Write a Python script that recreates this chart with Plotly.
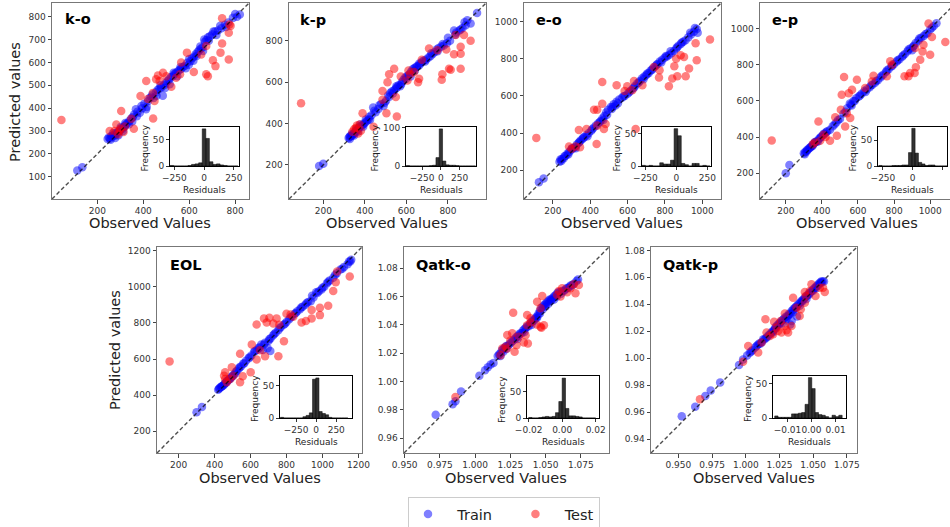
import plotly.graph_objects as go

W, H = 950, 527
FONT = "DejaVu Sans"

# ---------------- data ----------------
PANEL_NAMES = ["k-o", "k-p", "e-o", "e-p", "EOL", "Qatk-o", "Qatk-p"]
SERIES_NAMES = ["Train", "Test"]

# (observed, predicted) pairs
ko_train = [(113,128),(135,142),(245,265),(250,272),(255,268),(260,278),(265,275),(270,283),(275,280),(280,292),
            (285,288),(290,296),(295,300),(300,305),(305,312),(310,310),(315,318),(320,322),(325,330),(332,335),
            (340,345),(348,355),(355,362),(360,372),(368,395),(375,385),(385,380),(395,400),(405,420),(412,395),
            (420,430),(428,445),(435,450),(445,445),(455,470),(462,480),(470,485),(478,490),(485,455),(490,500),
            (498,510),(505,518),(512,525),(520,535),(528,540),(535,548),(542,555),(550,560),(558,568),(565,572),
            (572,580),(580,585),(590,598),(598,590),(605,605),(612,618),(620,625),(628,636),(636,645),(642,652),
            (650,660),(658,665),(665,700),(668,690),(675,698),(682,710),(690,715),(700,722),(712,735),(725,740),
            (740,750),(755,765),(770,775),(790,795),(808,800),(820,810),
            (258,262),(268,290),(278,270),(292,282),(302,318),(312,300),(322,335),(338,330),(352,342),(372,365),
            (392,410),(415,405),(440,460),(458,455),(475,500),(495,488),(515,505),(532,555),(548,540),(562,580),
            (585,575),(600,615),(618,608),(632,628),(648,670),(660,650),(685,695),(705,735),(718,720),(735,760),
            (760,755),(800,812)]
ko_test = [(44,348),(743,793),(775,766),(772,730),(743,683),(736,643),(772,613),(703,610),(714,584),(674,672),
           (652,635),(620,558),(681,540),(674,548),(590,643),(565,600),(486,555),(464,543),(471,519),(413,519),
           (456,527),(543,533),(522,494),(500,540),(388,453),(442,467),(449,431),(443,355),(359,310),(283,329),
           (304,388),(348,354),(275,300),(254,300),(297,300),(314,296),(290,286),(300,310),(320,320),(420,440),
           (780,760),(560,548)]

kp_train = [(180,195),(200,205),(322,330),(326,336),(330,340),(335,338),(340,345),(345,350),(350,352),(355,360),
            (360,366),(365,370),(370,378),(375,382),(380,388),(388,392),(395,398),(402,405),(410,412),(418,420),
            (425,418),(432,440),(440,478),(452,455),(465,470),(478,495),(490,485),(502,510),(512,535),(522,548),
            (530,555),(540,560),(548,568),(555,575),(562,585),(570,580),(578,600),(585,610),(592,620),(600,628),
            (608,632),(615,640),(622,650),(630,662),(638,668),(645,672),(652,678),(660,680),(668,690),(676,700),
            (685,705),(695,710),(705,718),(715,725),(725,735),(735,745),(745,758),(755,765),(768,772),(780,778),
            (795,788),(810,800),(829,850),(840,840),(855,850),(861,855),(870,862),(885,875),(893,900),(909,884),
            (940,935),
            (328,325),(338,350),(348,342),(358,372),(368,362),(378,395),(392,385),(405,420),(420,432),(445,462),
            (470,488),(495,500),(518,530),(535,545),(552,580),(575,590),(598,615),(620,628),(640,655),(662,690),
            (690,700),(720,740),(750,750),(775,785),(800,815),(835,830),(880,890)]
kp_test = [(93,498),(541,665),(517,638),(509,600),(485,557),(485,515),(504,450),(554,434),(618,638),(610,657),
           (637,649),(661,617),(674,709),(709,763),(749,755),(792,758),(837,828),(877,828),(909,800),(861,771),
           (861,738),(829,735),(773,638),(770,612),(805,665),(861,665),(813,660),(656,600),(605,608),(389,450),
           (381,365),(362,390),(349,374),(368,352),(442,385),(573,628),(549,528),(357,378),(340,360),(375,395)]

eo_train = [(125,135),(150,155),(235,245),(240,258),(248,260),(258,265),(268,278),(278,290),(288,300),(298,310),
            (308,318),(318,325),(328,338),(338,348),(348,360),(358,368),(368,378),(380,390),(392,400),(405,412),
            (418,428),(430,440),(442,452),(455,465),(465,478),(475,492),(485,510),(495,525),(520,540),(535,548),
            (510,540),(525,555),(540,568),(555,580),(570,590),(585,600),(600,612),(615,628),(628,640),(640,655),
            (652,668),(665,680),(678,695),(690,705),(700,712),(712,722),(722,735),(735,748),(748,760),(760,772),
            (772,785),(785,795),(798,805),(810,812),(822,820),(835,830),(848,842),(860,855),(872,870),(885,880),
            (898,892),(910,900),(925,915),(940,930),(955,945),(970,960),(975,940),
            (245,250),(262,275),(282,285),(302,318),(322,318),(342,352),(362,375),(385,383),(410,420),(450,458),
            (470,470),(490,498),(515,530),(548,560),(578,598),(608,620),(635,645),(660,672),(685,690),(705,720),
            (730,740),(755,768),(780,780),(805,815),(830,840),(865,862),(890,888),(935,940),(960,965)]
eo_test = [(111,374),(1041,904),(964,883),(970,792),(902,810),(884,819),(929,747),(911,706),(866,706),(839,693),
           (821,652),(771,738),(768,699),(741,756),(634,680),(679,657),(625,630),(598,652),(584,626),(541,657),
           (464,675),(464,558),(437,525),(420,525),(482,449),(473,422),(437,440),(434,341),(380,422),(339,417),
           (321,327),(286,327),(345,323),(300,315),(643,422),(860,800),(850,760)]

ep_train = [(200,200),(220,245),(300,310),(308,318),(315,320),(322,330),(330,338),(338,345),(345,352),(352,360),
            (360,368),(368,372),(375,380),(385,390),(395,400),(405,410),(418,420),(430,432),(445,440),(460,460),
            (480,480),(500,500),(520,530),(540,560),(555,585),(565,575),(575,600),(590,615),(605,625),(620,640),
            (635,655),(650,665),(665,675),(680,690),(695,700),(710,715),(725,730),(740,745),(755,760),(770,775),
            (785,790),(800,805),(815,818),(830,830),(845,845),(860,860),(875,875),(890,890),(900,880),(905,900),
            (920,920),(935,935),(950,950),(965,960),(985,975),(1000,995),(1020,1015),(1035,1030),
            (305,305),(318,328),(335,342),(348,350),(362,372),(378,375),(392,398),(410,418),(425,428),(470,470),
            (490,495),(530,540),(560,580),(582,600),(612,630),(642,650),(672,685),(700,710),(730,738),(760,768),
            (790,795),(820,825),(850,852),(880,885),(910,905),(940,945),(975,970),(1010,1005)]
ep_test = [(122,381),(991,1028),(1084,926),(1010,954),(958,874),(945,828),(921,787),(914,754),(880,736),(858,736),
           (889,754),(963,911),(917,893),(1000,856),(779,819),(788,800),(760,736),(686,739),(677,708),(640,671),
           (523,732),(594,717),(567,662),(549,643),(510,634),(505,551),(557,505),(538,532),(474,510),(529,458),
           (381,486),(483,407),(409,412),(360,370),(390,380),(420,400),(445,380),(350,360)]

eol_train = [(300,305),(330,335),(420,430),(428,440),(435,445),(442,450),(450,455),(458,465),(465,470),(472,478),
             (480,485),(488,492),(495,500),(505,512),(515,520),(525,535),(535,548),(548,560),(560,575),(575,590),
             (590,605),(605,620),(620,640),(635,650),(650,665),(660,680),(668,650),(680,690),(695,660),(710,645),
             (700,700),(712,715),(725,730),(740,745),(755,760),(770,778),(785,790),(800,805),(815,820),(830,835),
             (845,850),(860,865),(875,875),(890,890),(905,900),(920,915),(935,920),(950,940),(965,970),(980,975),
             (995,985),(1010,1000),(1025,1020),(1040,1035),(1060,1050),(1080,1075),(1100,1095),(1120,1110),
             (1140,1125),(1155,1140),(1160,1150),
             (425,435),(440,448),(455,462),(468,478),(482,490),(498,505),(518,530),(540,555),(565,575),(595,610),
             (625,645),(645,660),(675,680),(705,710),(732,738),(762,770),(792,795),(822,830),(852,855),(882,885),
             (912,910),(942,950),(972,965),(1000,995),(1032,1028),(1070,1065),(1110,1100),(1148,1140)]
eol_test = [(150,587),(1152,1057),(1082,1085),(1074,1025),(1060,977),(1032,895),(986,884),(986,843),(940,825),
            (940,871),(908,810),(884,802),(838,834),(823,847),(745,825),(727,797),(690,802),(675,825),(634,791),
            (705,828),(607,680),(653,648),(634,598),(542,629),(786,698),(755,616),(681,616),(601,527),(557,505),
            (542,471),(459,527),(453,508),(468,471),(496,555),(505,508),(487,489),(459,489),(760,790),(800,850)]

qo_train = [(0.972,0.9765),(0.984,0.984),(0.986,0.986),(0.990,0.993),(1.003,1.004),(1.007,1.008),(1.009,1.010),
            (1.011,1.012),(1.013,1.013),(1.017,1.019),(1.018,1.020),(1.019,1.022),(1.020,1.023),(1.021,1.024),
            (1.022,1.025),(1.023,1.025),(1.025,1.027),(1.026,1.028),(1.028,1.030),(1.029,1.031),(1.030,1.032),
            (1.031,1.033),(1.033,1.034),(1.034,1.036),(1.035,1.037),(1.036,1.038),(1.038,1.039),(1.039,1.041),
            (1.040,1.042),(1.041,1.043),(1.042,1.044),(1.043,1.045),(1.044,1.046),(1.045,1.048),(1.046,1.050),
            (1.047,1.052),(1.048,1.053),(1.049,1.054),(1.050,1.055),(1.051,1.056),(1.052,1.057),(1.053,1.058),
            (1.054,1.058),(1.055,1.059),(1.056,1.060),(1.057,1.061),(1.058,1.062),(1.059,1.063),(1.060,1.063),
            (1.062,1.064),(1.064,1.065),(1.066,1.066),(1.068,1.068),(1.070,1.069),(1.072,1.071),(1.073,1.072),
            (1.016,1.018),(1.018,1.018),(1.020,1.021),(1.022,1.023),(1.024,1.026),(1.027,1.029),(1.030,1.030),
            (1.032,1.034),(1.035,1.035),(1.037,1.039),(1.040,1.040),(1.042,1.043),(1.044,1.045),(1.046,1.048),
            (1.048,1.051),(1.050,1.053),(1.052,1.055),(1.054,1.057),(1.056,1.058),(1.058,1.060),(1.061,1.062),
            (1.063,1.064),(1.065,1.066),(1.067,1.067),(1.069,1.068)]
qo_test = [(0.986,0.989),(1.018,1.0186),(1.0216,1.0245),(1.0228,1.0328),(1.0263,1.034),(1.027,1.0486),
           (1.028,1.021),(1.0294,1.0257),(1.031,1.0316),(1.0346,1.0276),(1.0374,1.0268),(1.0358,1.0327),
           (1.0369,1.0469),(1.0369,1.0398),(1.0393,1.0417),(1.044,1.0564),(1.0476,1.0604),(1.0464,1.0517),
           (1.0488,1.0398),(1.0464,1.0387),(1.0436,1.0403),(1.0393,1.0446),(1.0582,1.0611),(1.0594,1.064),
           (1.0606,1.060),(1.0653,1.063),(1.0676,1.0658),(1.070,1.0687),(1.0712,1.0623),(1.0736,1.0682),
           (1.0617,1.0658),(1.0228,1.0233),(1.0193,1.0233),(1.0250,1.0290),(1.0470,1.0380)]

qp_train = [(0.9525,0.957),(0.9625,0.964),(0.970,0.972),(0.974,0.976),(0.981,0.982),(0.995,0.995),(0.998,0.999),
            (1.001,1.002),(1.003,1.004),(1.005,1.006),(1.007,1.008),(1.009,1.010),(1.010,1.011),(1.012,1.012),
            (1.013,1.014),(1.015,1.015),(1.016,1.016),(1.018,1.018),(1.019,1.019),(1.020,1.020),(1.021,1.021),
            (1.022,1.022),(1.023,1.024),(1.024,1.025),(1.025,1.025),(1.026,1.027),(1.027,1.028),(1.028,1.029),
            (1.029,1.030),(1.030,1.031),(1.031,1.031),(1.032,1.032),(1.033,1.033),(1.034,1.035),(1.035,1.036),
            (1.036,1.037),(1.037,1.037),(1.038,1.039),(1.039,1.040),(1.040,1.041),(1.041,1.042),(1.042,1.043),
            (1.043,1.044),(1.044,1.045),(1.045,1.046),(1.046,1.047),(1.047,1.048),(1.048,1.049),(1.049,1.050),
            (1.050,1.051),(1.051,1.052),(1.052,1.053),(1.053,1.054),(1.054,1.055),(1.055,1.056),(1.056,1.057),
            (1.057,1.057),(1.058,1.057),(1.034,1.0277),
            (1.004,1.005),(1.008,1.009),(1.011,1.011),(1.014,1.014),(1.017,1.017),(1.020,1.019),(1.022,1.023),
            (1.025,1.026),(1.027,1.026),(1.030,1.029),(1.032,1.033),(1.035,1.034),(1.037,1.038),(1.040,1.039),
            (1.042,1.042),(1.045,1.044),(1.047,1.047),(1.050,1.050),(1.052,1.052),(1.054,1.054),(1.056,1.056),
            (1.038,1.031),(1.033,1.025)]
qp_test = [(0.966,0.9696),(0.998,0.9973),(1.0018,1.0091),(1.0092,1.0042),(1.0117,1.0116),(1.0146,1.0289),
           (1.0154,1.019),(1.0179,1.0165),(1.0203,1.0178),(1.021,1.027),(1.0228,1.0227),(1.024,1.0202),
           (1.0265,1.019),(1.029,1.0331),(1.0302,1.0207),(1.0314,1.019),(1.029,1.0239),(1.026,1.0277),
           (1.0339,1.0239),(1.0351,1.0449),(1.040,1.0314),(1.0408,1.0363),(1.0438,1.0491),(1.0445,1.0462),
           (1.0475,1.0499),(1.0487,1.0548),(1.0517,1.0462),(1.0549,1.0523),(1.0586,1.0491),(1.0573,1.0523),
           (1.0376,1.0375),(1.0438,1.0412)]

TRAIN = [ko_train, kp_train, eo_train, ep_train, eol_train, qo_train, qp_train]
TEST = [ko_test, kp_test, eo_test, ep_test, eol_test, qo_test, qp_test]

# residual histograms: first bin left edge, bin width, counts
HIST_LO = [-285, -462, -279.5, -286, -445, -0.020, -0.0153]
HIST_W = [30, 44, 29, 28, 40, 0.002, 0.0014]
HIST_COUNTS = [
    [1, 0, 0, 0, 0, 1, 3, 4, 6, 70, 52, 8, 3, 4, 2, 1, 0, 0, 0],
    [1, 0, 0, 0, 0, 0, 0, 1, 2, 22, 97, 13, 3, 2, 2, 1, 0, 0, 0, 0, 0],
    [1, 0, 1, 0, 0, 5, 3, 3, 9, 58, 47, 4, 2, 0, 4, 4, 0, 1, 0],
    [1, 0, 0, 0, 1, 1, 1, 2, 2, 26, 73, 25, 7, 4, 1, 2, 2, 0, 0, 0, 0],
    [1, 0, 0, 0, 0, 0, 0, 2, 4, 8, 60, 62, 10, 7, 5, 1, 0, 0, 0, 0, 0],
    [1, 0, 0, 1, 2, 3, 2, 3, 10, 31, 75, 18, 4, 4, 3, 2, 0, 0, 0, 0],
    [3, 1, 1, 1, 1, 6, 6, 7, 8, 20, 59, 43, 8, 5, 4, 2, 0, 4, 2, 4],
]

# axis ticks
MAIN_XTICKS = [[200, 400, 600, 800], [200, 400, 600, 800], [200, 400, 600, 800, 1000],
               [200, 400, 600, 800, 1000], [200, 400, 600, 800, 1000, 1200],
               [0.950, 0.975, 1.000, 1.025, 1.050, 1.075], [0.950, 0.975, 1.000, 1.025, 1.050, 1.075]]
MAIN_YTICKS = [[100, 200, 300, 400, 500, 600, 700, 800], [200, 400, 600, 800],
               [200, 400, 600, 800, 1000], [200, 400, 600, 800, 1000],
               [200, 400, 600, 800, 1000, 1200],
               [0.96, 0.98, 1.00, 1.02, 1.04, 1.06, 1.08],
               [0.94, 0.96, 0.98, 1.00, 1.02, 1.04, 1.06, 1.08]]
MAIN_XFMT = ["d", "d", "d", "d", "d", ".3f", ".3f"]
MAIN_YFMT = ["d", "d", "d", "d", "d", ".2f", ".2f"]
INSET_XTICKS = [[-250, 0, 250]] * 5 + [[-0.02, 0.0, 0.02], [-0.01, 0.0, 0.01]]
INSET_XTEXT = [["\u2212250", "0", "250"]] * 5 + [["\u22120.02", "0.00", "0.02"], ["\u22120.01", "0.00", "0.01"]]
INSET_YTICKS = [[0, 50], [0, 100], [0, 50], [0, 50], [0, 50], [0, 50], [0, 50]]

# ---------------- layout geometry (pixels) ----------------
MAIN_BOX = [(52, 249, 3, 199), (289, 486, 3, 199), (524, 721, 3, 199), (760, 950, 3, 199),
            (157, 362, 247, 453), (404, 609, 247, 453), (651, 857, 247, 453)]
MAIN_XR = [(3, 860), (35, 983), (45, 1100), (57, 1110), (80, 1220), (0.9495, 1.095), (0.9297, 1.0825)]
MAIN_YR = [(3, 860), (35, 983), (45, 1100), (57, 1142), (80, 1220), (0.9495, 1.095), (0.9297, 1.0825)]
INSET_BOX = [(170, 239, 127, 166), (406, 476, 127, 166), (642, 711, 127, 166), (878, 947, 127, 166),
             (280, 352, 376, 418), (527, 599, 376, 418), (773, 846, 376, 418)]
INSET_XR = [(-286, 294), (-465, 468), (-278, 280), (-292, 292), (-450, 446), (-0.021, 0.022), (-0.016, 0.0143)]
INSET_YR = [(0, 73.5), (0, 102), (0, 60.6), (0, 75.6), (0, 65), (0, 79), (0, 61.4)]
LABEL_POS = [(63, 19), (298, 20), (534, 20), (770, 20), (168, 265), (414, 265), (661, 265)]
XTITLE_POS = [(150, 223), (387, 223), (622, 223), (857, 223), (260, 478), (506, 478), (754, 478)]
# non-breaking spaces that reproduce the reference legend spacing
LEGEND_LEAD = "\u00a0" * 2
LEGEND_TRAIL = "\u00a0" * 4


def dx(a, b):
    return [a / W, b / W]


def dy(top, bottom):
    return [1 - bottom / H, 1 - top / H]


def px(x):
    return x / W


def py(y):
    return 1 - y / H


fig = go.Figure()
layout = dict(
    width=W, height=H, autosize=False,
    margin=dict(l=0, r=0, t=0, b=0, autoexpand=False),
    paper_bgcolor="white", plot_bgcolor="white",
    font=dict(family=FONT, color="#222"),
    showlegend=True,
    legend=dict(orientation="h", x=px(408), y=py(497), xanchor="left", yanchor="top",
                bordercolor="#cccccc", borderwidth=1, bgcolor="white",
                font=dict(size=14.5, family=FONT, color="#222"),
                itemwidth=30, tracegroupgap=0),
)

annotations = []
tickfont = dict(size=9, family=FONT, color="#333")

for i in range(7):
    n = i + 1
    xa, ya = ("x", "y") if n == 1 else (f"x{n}", f"y{n}")
    tr = TRAIN[i]
    te = TEST[i]
    fig.add_trace(go.Scatter(x=[p[0] for p in tr], y=[p[1] for p in tr], mode="markers",
                             marker=dict(color="blue", size=8.5, opacity=0.5, line=dict(width=0)),
                             name=LEGEND_LEAD + SERIES_NAMES[0] + LEGEND_TRAIL, legendgroup="train",
                             showlegend=(n == 1), xaxis=xa, yaxis=ya, hoverinfo="skip"))
    fig.add_trace(go.Scatter(x=[p[0] for p in te], y=[p[1] for p in te], mode="markers",
                             marker=dict(color="red", size=8.5, opacity=0.5, line=dict(width=0)),
                             name=LEGEND_LEAD + SERIES_NAMES[1], legendgroup="test",
                             showlegend=(n == 1), xaxis=xa, yaxis=ya, hoverinfo="skip"))
    lo = min(MAIN_XR[i][0], MAIN_YR[i][0])
    hi = max(MAIN_XR[i][1], MAIN_YR[i][1])
    fig.add_trace(go.Scatter(x=[lo, hi], y=[lo, hi], mode="lines",
                             line=dict(color="rgba(0,0,0,0.7)", width=1.4, dash="4px,2.5px"),
                             showlegend=False, xaxis=xa, yaxis=ya, hoverinfo="skip"))
    x0, x1, y0, y1 = MAIN_BOX[i]
    common = dict(showline=True, linecolor="#777", linewidth=1, ticks="outside", ticklen=3.5,
                  tickwidth=1, tickcolor="#444", tickfont=tickfont, showgrid=False, zeroline=False)
    layout["xaxis" if n == 1 else f"xaxis{n}"] = dict(
        domain=dx(x0, x1), range=list(MAIN_XR[i]), anchor=ya, mirror=True, tickangle=0,
        tickvals=MAIN_XTICKS[i], tickformat=MAIN_XFMT[i], **common)
    layout["yaxis" if n == 1 else f"yaxis{n}"] = dict(
        domain=dy(y0, y1), range=list(MAIN_YR[i]), anchor=xa, mirror=(n != 4),
        tickvals=MAIN_YTICKS[i], tickformat=MAIN_YFMT[i], **common)

    # panel label
    lx, ly = LABEL_POS[i]
    annotations.append(dict(text=f"<b>{PANEL_NAMES[i]}</b>", x=px(lx), y=py(ly), xref="paper", yref="paper",
                            xanchor="left", yanchor="middle", showarrow=False,
                            font=dict(size=14.5, family=FONT, color="black")))
    # x title
    cx, ty = XTITLE_POS[i]
    annotations.append(dict(text="Observed Values", x=px(cx), y=py(ty), xref="paper", yref="paper",
                            xanchor="center", yanchor="middle", showarrow=False,
                            font=dict(size=14.5, family=FONT, color="#222")))

    # inset histogram
    m = n + 7
    ixa, iya = f"x{m}", f"y{m}"
    counts = HIST_COUNTS[i]
    centers = [HIST_LO[i] + (k + 0.5) * HIST_W[i] for k in range(len(counts))]
    fig.add_trace(go.Bar(x=centers, y=counts, width=HIST_W[i],
                         marker=dict(color="rgba(0,0,0,0.8)", line=dict(color="black", width=0.5)),
                         showlegend=False, xaxis=ixa, yaxis=iya, hoverinfo="skip"))
    bx0, bx1, by0, by1 = INSET_BOX[i]
    icommon = dict(showline=True, linecolor="black", linewidth=1, mirror=True, ticks="outside",
                   ticklen=3, tickwidth=1, tickcolor="#333", tickfont=tickfont, tickangle=0,
                   showgrid=False, zeroline=False)
    layout[f"xaxis{m}"] = dict(domain=dx(bx0, bx1), range=list(INSET_XR[i]), anchor=iya,
                               tickvals=INSET_XTICKS[i], ticktext=INSET_XTEXT[i], **icommon)
    layout[f"yaxis{m}"] = dict(domain=dy(by0, by1), range=list(INSET_YR[i]), anchor=ixa,
                               tickvals=INSET_YTICKS[i], **icommon)
    annotations.append(dict(text="Residuals", x=px((bx0 + bx1) / 2), y=py(by1 + 24), xref="paper",
                            yref="paper", xanchor="center", yanchor="middle", showarrow=False,
                            font=dict(size=9, family=FONT, color="#222")))
    off = 31 if i == 1 else 25
    annotations.append(dict(text="Frequency", x=px(bx0 - off), y=py((by0 + by1) / 2 + 2), xref="paper",
                            yref="paper", xanchor="center", yanchor="middle", showarrow=False,
                            textangle=-90, font=dict(size=9, family=FONT, color="#222")))

for (xc, yc) in [(15, 102), (115, 350)]:
    annotations.append(dict(text="Predicted values", x=px(xc), y=py(yc), xref="paper", yref="paper",
                            xanchor="center", yanchor="middle", showarrow=False, textangle=-90,
                            font=dict(size=14.5, family=FONT, color="#222")))

layout["annotations"] = annotations
fig.update_layout(**layout)
fig.write_html("out.html", config={"displayModeBar": False, "staticPlot": True},
               post_script="document.body.style.margin='0px';")
